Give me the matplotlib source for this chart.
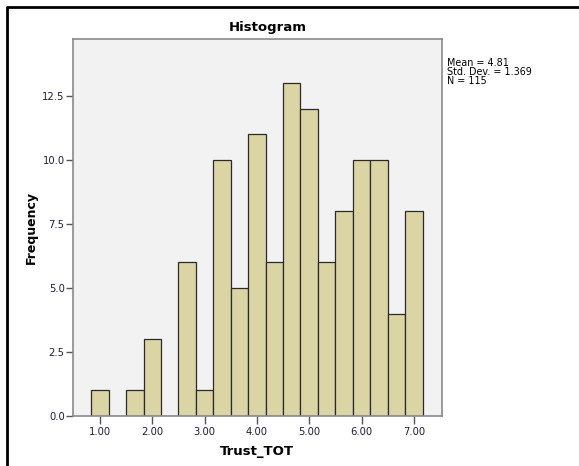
import numpy as np
import matplotlib.pyplot as plt
from matplotlib.lines import Line2D

# Trust_TOT histogram (bins of width 1/3)
bin_centers = [1.0, 4 / 3, 5 / 3, 2.0, 7 / 3, 8 / 3, 3.0, 10 / 3, 11 / 3, 4.0,
               13 / 3, 14 / 3, 5.0, 16 / 3, 17 / 3, 6.0, 19 / 3, 20 / 3, 7.0]
counts = [1, 0, 1, 3, 0, 6, 1, 10, 5, 11, 6, 13, 12, 6, 8, 10, 10, 4, 8]
bin_width = 1 / 3

x_ticks = [1, 2, 3, 4, 5, 6, 7]
y_ticks = [0.0, 2.5, 5.0, 7.5, 10.0, 12.5]
stats_text = "Mean = 4.81\nStd. Dev. = 1.369\nN = 115"

W, H = 579, 466
fig = plt.figure(figsize=(W / 100, H / 100), dpi=100)
fig.patch.set_facecolor('white')

ax = fig.add_axes([73 / W, 50 / H, (441.7 - 73) / W, (416 - 39) / H])
ax.set_facecolor('#f2f2f2')

ax.bar(bin_centers, counts, width=bin_width, color='#dbd5a6',
       edgecolor='#2a2a2a', linewidth=0.9)

ax.set_xlim(0.484, 7.533)
ax.set_ylim(0, 14.73)

ax.set_xticks(x_ticks)
ax.set_xticklabels(['%.2f' % v for v in x_ticks])
ax.set_yticks(y_ticks)
ax.set_yticklabels(['%.1f' % v for v in y_ticks])

for s in ax.spines.values():
    s.set_color('#8a8a8a')
    s.set_linewidth(1.2)

ax.tick_params(axis='x', length=6, width=1, color='#555555', labelsize=7.2,
               labelcolor='#1c1c3a', pad=2)
ax.tick_params(axis='y', length=5, width=1, color='#555555', labelsize=7.2,
               labelcolor='#1c1c3a', pad=1)

ax.set_xlabel('Trust_TOT', fontsize=9.5, fontweight='bold', labelpad=6)
ax.set_ylabel('Frequency', fontsize=9, fontweight='bold', labelpad=3)

fig.text(268 / W, 1 - 27 / H, 'Histogram', ha='center', va='center',
         fontsize=9.5, fontweight='bold')

fig.text(447 / W, 1 - 58 / H, stats_text, ha='left', va='top',
         fontsize=6.9, linespacing=0.88)

# outer black frame (left and top edges)
fig.add_artist(Line2D([7.5 / W, 7.5 / W, 1.0], [0.0, 1 - 6.5 / H, 1 - 6.5 / H],
                      transform=fig.transFigure, color='black', linewidth=2))

fig.savefig('out.png', dpi=100)
